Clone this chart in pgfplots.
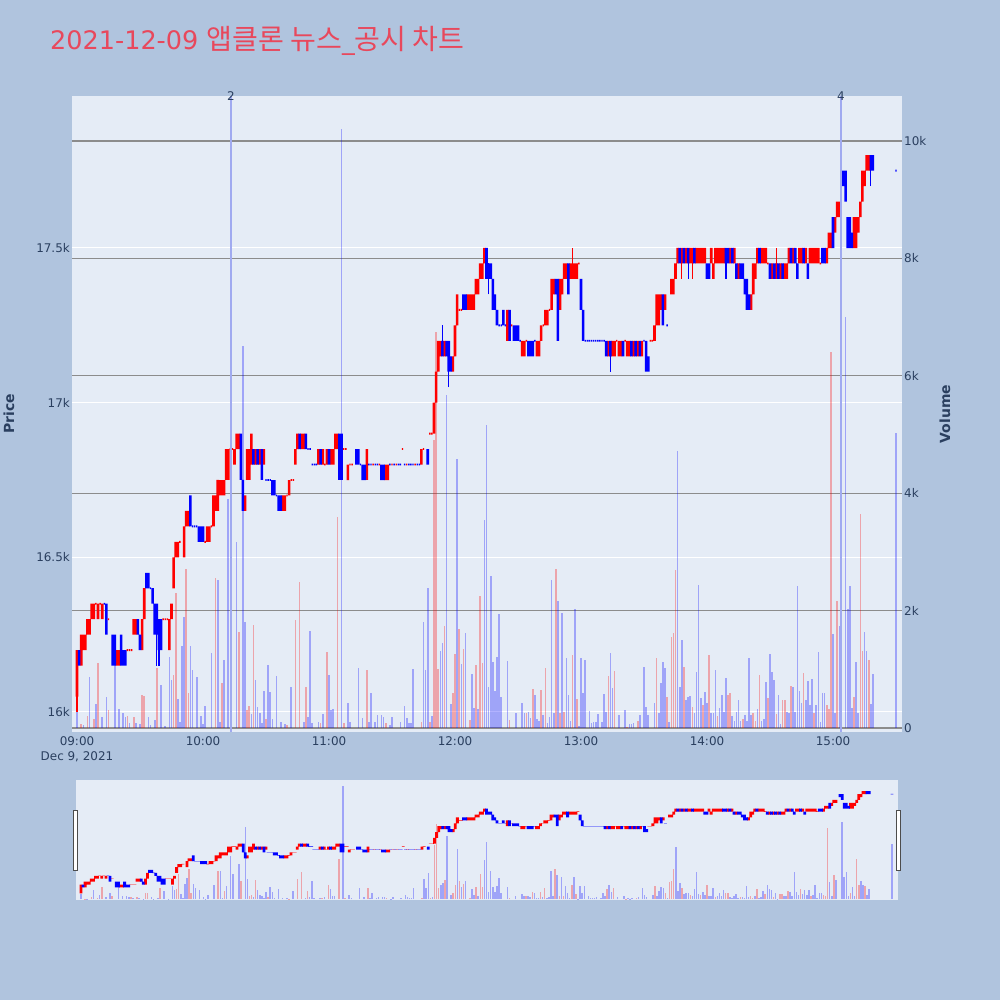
\documentclass[border=0pt]{standalone}
\usepackage{pgfplots}
\pgfplotsset{compat=1.18}
\usepackage{pgfplotstable}
\usepackage{fontspec}
\setmainfont{DejaVu Sans}
\newfontfamily\krfont{Noto Sans CJK KR}
\definecolor{pagebg}{RGB}{176,196,222}
\definecolor{plotbg}{RGB}{229,236,246}
\definecolor{axtext}{RGB}{42,63,95}
\definecolor{titlecol}{RGB}{232,72,92}
\definecolor{upc}{RGB}{255,0,0}
\definecolor{dnc}{RGB}{0,0,255}
\definecolor{vlinec}{RGB}{160,170,240}
\definecolor{vgrid}{RGB}{140,140,140}

\pgfplotstableread{
m o c u
0 16050 16200 1
1 16200 16150 0
2 16150 16250 1
3 16200 16250 1
4 16200 16250 1
5 16250 16300 1
6 16250 16300 1
7 16300 16350 1
8 16300 16350 1
9 16350 16350 1
10 16300 16350 1
11 16350 16350 1
12 16300 16350 1
13 16350 16350 0
14 16350 16250 0
15 16300 16300 1
17 16250 16150 0
18 16250 16150 0
19 16150 16200 1
20 16150 16200 1
21 16250 16150 0
22 16200 16150 0
23 16200 16150 0
24 16200 16200 1
25 16200 16200 1
26 16200 16200 1
27 16250 16300 1
28 16250 16300 1
29 16300 16250 0
30 16250 16200 0
31 16200 16300 1
32 16300 16400 1
33 16450 16400 0
34 16450 16400 0
35 16400 16400 0
36 16400 16350 0
37 16350 16250 0
38 16350 16250 0
39 16300 16200 0
40 16300 16200 0
41 16300 16300 1
42 16300 16300 1
43 16300 16300 1
44 16200 16300 1
45 16300 16350 1
46 16400 16500 1
47 16500 16550 1
48 16500 16550 1
49 16550 16550 1
51 16500 16600 1
52 16600 16650 1
53 16600 16650 1
54 16700 16600 0
55 16600 16600 0
56 16600 16600 0
57 16600 16600 0
58 16600 16550 0
59 16600 16550 0
60 16600 16550 0
61 16550 16550 1
62 16550 16600 1
63 16550 16600 1
64 16600 16600 1
65 16600 16700 1
66 16650 16700 1
67 16650 16750 1
68 16700 16750 1
69 16700 16750 1
70 16700 16750 1
71 16750 16850 1
72 16750 16850 1
73 16850 16850 1
74 16850 16850 1
75 16800 16850 1
76 16850 16900 1
77 16850 16900 1
78 16900 16750 0
79 16750 16650 0
80 16650 16700 1
81 16750 16850 1
82 16750 16850 1
83 16800 16900 1
84 16850 16800 0
85 16800 16850 1
86 16850 16800 0
87 16800 16850 1
88 16850 16750 0
89 16800 16850 1
90 16750 16750 0
91 16750 16750 0
92 16750 16750 0
93 16750 16700 0
94 16750 16700 0
95 16700 16700 0
96 16700 16650 0
97 16700 16650 0
98 16650 16700 1
99 16650 16700 1
100 16700 16700 1
101 16700 16750 1
102 16750 16750 1
103 16750 16750 1
104 16800 16850 1
105 16850 16900 1
106 16900 16850 0
107 16850 16900 1
108 16850 16900 1
109 16900 16850 0
110 16850 16850 0
111 16850 16850 0
112 16800 16800 0
113 16800 16800 0
114 16800 16800 0
115 16800 16850 1
116 16850 16800 0
117 16800 16850 1
118 16800 16800 1
119 16800 16850 1
120 16850 16800 0
121 16800 16850 1
122 16800 16850 1
123 16850 16900 1
124 16850 16900 1
125 16900 16750 0
126 16900 16750 0
127 16850 16850 1
128 16850 16850 1
129 16750 16800 1
130 16800 16800 1
131 16800 16800 1
133 16850 16800 0
134 16850 16800 0
135 16800 16800 0
136 16800 16750 0
137 16800 16750 0
138 16750 16850 1
139 16800 16800 0
140 16800 16800 0
141 16800 16800 1
142 16800 16800 0
143 16800 16800 0
144 16800 16800 1
145 16800 16750 0
146 16800 16750 0
147 16750 16800 1
148 16750 16800 1
149 16800 16800 0
150 16800 16800 1
151 16800 16800 0
152 16800 16800 1
153 16800 16800 0
154 16800 16800 0
155 16850 16850 1
156 16800 16800 0
157 16800 16800 1
158 16800 16800 0
159 16800 16800 0
160 16800 16800 0
161 16800 16800 1
162 16800 16800 0
163 16800 16800 0
164 16800 16850 1
165 16850 16850 1
167 16850 16800 0
168 16900 16900 1
169 16900 16900 1
170 16900 17000 1
171 17000 17100 1
172 17100 17200 1
173 17150 17200 1
174 17200 17150 0
175 17150 17200 1
176 17200 17150 0
177 17200 17100 0
178 17150 17100 0
179 17100 17150 1
180 17150 17250 1
181 17250 17350 1
182 17300 17300 1
183 17300 17300 1
184 17350 17300 0
185 17350 17300 0
186 17300 17350 1
187 17300 17350 1
188 17300 17350 1
189 17300 17350 1
190 17350 17400 1
191 17350 17400 1
192 17400 17450 1
193 17400 17450 1
194 17450 17500 1
195 17500 17400 0
196 17450 17400 0
197 17450 17400 0
198 17400 17300 0
199 17350 17300 0
200 17300 17250 0
201 17250 17250 0
202 17250 17250 0
203 17300 17250 0
204 17250 17250 0
205 17200 17300 1
206 17300 17200 0
207 17250 17250 1
208 17250 17200 0
209 17250 17200 0
210 17250 17200 0
211 17200 17200 0
212 17150 17200 1
213 17150 17200 1
214 17200 17200 1
215 17200 17150 0
216 17200 17150 0
217 17200 17150 0
218 17200 17200 0
219 17150 17200 1
220 17150 17200 1
221 17200 17250 1
222 17250 17250 1
223 17250 17300 1
224 17250 17300 1
225 17300 17300 1
226 17300 17400 1
227 17350 17400 1
228 17400 17350 0
229 17400 17200 0
230 17300 17400 1
231 17350 17400 1
232 17400 17450 1
233 17400 17450 1
234 17450 17350 0
235 17400 17450 1
236 17400 17450 1
237 17400 17450 1
238 17400 17450 1
239 17450 17450 1
240 17400 17300 0
241 17300 17200 0
242 17200 17200 0
243 17200 17200 0
244 17200 17200 0
245 17200 17200 0
246 17200 17200 0
247 17200 17200 0
248 17200 17200 0
249 17200 17200 0
250 17200 17200 0
251 17200 17200 0
252 17200 17150 0
253 17150 17200 1
254 17200 17150 0
255 17150 17200 1
256 17150 17200 1
257 17200 17200 1
258 17150 17200 1
259 17150 17200 1
260 17200 17150 0
261 17200 17200 1
262 17150 17200 1
263 17150 17200 1
264 17200 17150 0
265 17150 17200 1
266 17200 17150 0
267 17150 17200 1
268 17200 17150 0
269 17150 17200 1
270 17200 17200 0
271 17200 17100 0
272 17150 17100 0
273 17200 17200 1
274 17200 17200 1
275 17200 17250 1
276 17250 17350 1
277 17250 17350 1
278 17300 17350 1
279 17350 17250 0
280 17300 17350 1
281 17250 17250 0
283 17350 17400 1
284 17350 17400 1
285 17400 17450 1
286 17450 17500 1
287 17500 17450 0
288 17450 17500 1
289 17500 17450 0
290 17450 17500 1
291 17500 17450 0
292 17450 17500 1
293 17450 17500 1
294 17500 17450 0
295 17450 17500 1
296 17450 17500 1
297 17450 17500 1
298 17450 17500 1
299 17450 17500 1
300 17450 17400 0
301 17450 17400 0
302 17450 17500 1
303 17400 17450 1
304 17450 17500 1
305 17450 17500 1
306 17450 17500 1
307 17450 17500 1
308 17450 17500 1
309 17500 17450 0
310 17500 17450 0
311 17450 17500 1
312 17500 17450 0
313 17450 17500 1
314 17450 17400 0
315 17400 17450 1
316 17450 17400 0
317 17450 17400 0
318 17400 17350 0
319 17400 17300 0
320 17350 17300 0
321 17300 17350 1
322 17350 17450 1
323 17400 17450 1
324 17450 17500 1
325 17500 17450 0
326 17450 17500 1
327 17450 17500 1
328 17450 17500 1
329 17450 17450 1
330 17450 17400 0
331 17400 17450 1
332 17450 17400 0
333 17400 17450 1
334 17450 17400 0
335 17400 17450 1
336 17450 17400 0
337 17400 17450 1
338 17400 17450 1
339 17450 17500 1
340 17500 17450 0
341 17450 17500 1
342 17500 17450 0
343 17450 17400 0
344 17450 17500 1
345 17450 17500 1
346 17500 17450 0
347 17450 17500 1
348 17450 17400 0
349 17450 17500 1
350 17450 17500 1
351 17450 17500 1
352 17450 17500 1
353 17450 17500 1
354 17450 17450 1
355 17500 17450 0
356 17500 17450 0
357 17450 17500 1
358 17500 17550 1
359 17500 17550 1
360 17600 17500 0
361 17550 17600 1
362 17600 17650 1
363 17600 17650 1
365 17750 17700 0
366 17750 17650 0
367 17600 17500 0
368 17600 17500 0
369 17550 17500 0
370 17500 17600 1
371 17500 17600 1
372 17550 17600 1
373 17600 17650 1
374 17650 17750 1
375 17700 17750 1
376 17750 17800 1
377 17750 17800 1
378 17800 17750 0
379 17800 17750 0
390 17750 17750 0
}\candles

\pgfplotstableread{
m v u
0 490 0
2 60 1
3 50 0
5 200 1
6 870 0
8 150 1
9 410 0
10 1100 1
12 190 0
14 530 0
15 300 1
18 1100 0
20 320 0
22 250 0
23 190 0
24 200 1
25 80 0
27 190 1
28 80 0
30 60 0
31 560 1
32 545 1
34 190 0
35 50 0
37 140 0
38 1020 1
40 730 0
42 40 0
44 1210 0
45 820 0
46 900 1
47 2300 1
48 500 0
49 100 0
50 1400 0
51 1890 0
52 2700 1
53 600 1
54 1400 0
55 990 0
57 870 0
59 200 0
60 60 0
61 380 0
64 1280 0
66 2550 1
67 2520 0
68 100 0
69 770 1
70 1160 0
72 3900 0
73 2300 0
76 3170 0
77 1630 1
79 6500 0
80 1800 0
81 310 1
82 380 1
83 230 0
84 1750 1
85 820 0
86 360 0
87 250 0
88 80 0
89 630 0
90 160 1
91 1070 0
92 610 0
93 150 0
95 880 0
97 100 0
99 70 0
100 50 1
102 700 0
104 1840 1
106 2490 1
108 100 0
109 700 1
110 190 0
111 1650 0
112 80 0
115 100 0
116 80 1
117 230 0
119 1290 1
120 900 0
121 300 0
122 330 0
124 3600 1
126 10200 0
127 80 1
129 420 0
130 107 0
134 1028 0
136 165 0
138 988 1
139 107 0
140 591 0
142 107 0
143 221 0
145 221 0
146 193 0
147 85 1
149 51 0
150 193 0
154 107 0
156 375 0
157 165 0
158 85 0
159 90 0
160 1000 0
164 107 1
165 1811 0
166 988 0
167 2390 0
168 102 1
169 204 0
170 4906 1
171 6750 1
172 1000 1
173 1317 0
174 1443 0
175 1738 1
176 5670 0
178 409 0
179 602 1
180 1260 1
181 4580 0
182 1687 1
183 1090 0
184 1345 1
185 1624 0
187 136 1
188 920 0
189 340 0
190 1073 1
191 324 0
192 2250 1
193 1113 1
194 3543 0
195 5162 0
196 698 0
197 2590 0
198 1130 0
199 636 0
200 1215 0
201 1942 0
202 534 0
205 1147 0
206 136 1
209 255 0
212 431 0
213 255 0
214 261 1
215 267 0
216 170 0
217 664 1
218 562 0
219 153 0
220 125 0
221 647 1
222 221 0
223 1022 1
224 90 0
225 193 0
226 2521 0
227 255 0
228 2703 1
229 2164 0
230 261 1
231 1965 0
232 278 1
233 1187 0
234 562 0
235 119 0
236 1244 1
237 2022 0
238 489 1
239 34 0
240 1187 0
241 591 0
242 1158 0
244 295 0
245 90 0
246 107 0
247 107 0
248 238 0
250 107 0
251 579 0
252 278 0
253 886 1
254 1272 0
255 676 0
256 976 1
258 221 0
261 307 0
262 22 1
263 68 0
264 60 0
265 80 0
267 125 1
268 221 0
270 1045 0
271 363 0
272 221 0
275 426 0
276 1187 1
277 250 0
278 761 0
279 1130 0
280 1017 0
281 534 1
282 100 0
283 1556 1
284 1613 1
285 2692 1
286 4724 0
287 704 0
288 1500 0
289 1045 1
290 477 0
291 523 0
292 540 0
293 352 1
294 250 0
295 959 0
296 2436 0
297 506 0
298 392 1
299 619 0
300 420 0
301 1244 1
302 250 0
303 260 0
304 988 0
305 200 1
306 335 0
307 562 0
308 270 0
309 857 0
310 562 1
311 591 1
312 200 0
313 120 0
314 280 0
315 477 0
316 120 0
317 160 1
318 220 0
319 120 0
320 1187 0
321 220 0
322 261 1
323 120 1
324 330 0
325 903 1
326 120 0
327 160 0
328 789 0
329 506 1
330 1260 0
331 959 0
332 818 0
333 230 1
334 562 0
335 60 0
336 477 1
337 477 1
338 280 0
339 250 0
340 716 1
341 693 0
342 280 0
343 2419 0
344 636 0
345 420 0
346 943 1
347 477 0
348 806 0
349 400 0
350 829 0
351 250 1
352 400 0
353 1300 0
354 100 0
355 602 0
356 602 0
357 392 1
358 330 1
359 6411 1
360 1601 0
361 250 0
362 2169 1
363 1738 0
366 7007 0
367 2022 0
368 2419 0
369 335 0
370 523 1
371 1130 0
372 250 0
373 3646 1
374 1317 1
375 1641 0
376 1317 0
377 1158 1
378 409 0
379 920 0
390 5031 0
}\vols

\pgfplotsset{
  mainax/.style={at={(72bp,268bp)}, anchor=south west, scale only axis,
    width=830bp, height=636bp, xmin=-2.381, xmax=392.857,
    axis line style={draw=none}, major tick length=0pt, scaled ticks=false},
  sliderax/.style={at={(76bp,100bp)}, anchor=south west, scale only axis,
    width=822bp, height=120bp, xmin=-2.381, xmax=392.857,
    axis line style={draw=none}, major tick length=0pt, scaled ticks=false,
    xtick=\empty, ytick=\empty},
  pricerange/.style={ymin=15935.3, ymax=17991.4},
  volrange/.style={ymin=-68.1, ymax=10766},
}
% candle bodies as stacked bars: invisible base, then coloured body
\newcommand{\bodies}[2]{%
  \addplot[draw=none, fill=none] table[x=m,
    y expr={(\thisrow{o}+\thisrow{c})/2-max(abs(\thisrow{c}-\thisrow{o})/2,3)}] {\candles};
  \addplot[draw=none, fill=#2] table[x=m,
    y expr={#1*2*max(abs(\thisrow{c}-\thisrow{o})/2,3)}] {\candles};}
\newcommand{\notdoji}{min(abs(\thisrow{c}-\thisrow{o}),1)}
\newcommand{\isdoji}{(1-min(abs(\thisrow{c}-\thisrow{o}),1))}
\newcommand{\volplot}[3]{\addplot[forget plot, ycomb, mark=none, draw=#2, draw opacity=0.3,
  line width=#3, restrict expr to domain={\thisrow{u}}{#1}] table[x=m,y=v] {\vols};}
\newcommand{\wicks}[1]{%
  \addplot[upc, line width=#1, unbounded coords=jump, forget plot] coordinates {
    (0,16000) (0,16200) (0,nan) (236,17400) (236,17500) (236,nan)
    (288,17400) (288,17500) (288,nan) (293,17400) (293,17500) (293,nan)
    (333,17400) (333,17500)};
  \addplot[dnc, line width=#1, unbounded coords=jump, forget plot] coordinates {
    (38,16150) (38,16350) (38,nan) (39,16150) (39,16300) (39,nan)
    (174,17150) (174,17250) (174,nan) (177,17050) (177,17200) (177,nan)
    (196,17350) (196,17450) (196,nan) (254,17100) (254,17200) (254,nan)
    (291,17400) (291,17500) (291,nan) (309,17400) (309,17500) (309,nan)
    (378,17700) (378,17800)};}

\begin{document}
\begin{tikzpicture}[x=1bp,y=1bp]
\fill[pagebg] (0,0) rectangle (1000,1000);

% title
\node[anchor=west, text=titlecol, inner sep=0pt] at (50,959)
  {\fontsize{25.6}{30}\selectfont 2021-12-09 {\krfont\fontsize{28.2}{30}\selectfont 앱클론 뉴스}\_{\krfont\fontsize{28.2}{30}\selectfont 공시 차트}};

% main: background + price grid + labels
\begin{axis}[mainax, pricerange,
  axis background/.style={fill=plotbg},
  ytick={16000,16500,17000,17500}, yticklabels={16k,16.5k,17k,17.5k},
  ymajorgrids, major grid style={white, line width=1bp},
  xtick={0,60,120,180,240,300,360},
  xticklabels={09:00,10:00,11:00,12:00,13:00,14:00,15:00},
  ticklabel style={font=\fontsize{12}{14}\selectfont, text=axtext},
  yticklabel style={anchor=east, inner sep=0pt, xshift=-2bp},
  xticklabel style={anchor=north, inner sep=0pt, yshift=-4bp}]
\addplot[draw=none, forget plot] coordinates {(0,16000)};
\end{axis}

% main: volume
\begin{axis}[mainax, volrange,
  xtick=\empty,
  ytick={2000,4000,6000,8000,10000}, yticklabels={2k,4k,6k,8k,10k},
  extra y ticks={0}, extra y tick labels={0},
  extra y tick style={grid style={white, line width=1.6bp}},
  ymajorgrids, major grid style={vgrid, line width=1.2bp},
  yticklabel pos=right,
  ticklabel style={font=\fontsize{12}{14}\selectfont, text=axtext},
  yticklabel style={anchor=west, inner sep=0pt, xshift=2bp}]
\volplot{0.5:1.5}{upc}{1.6bp}
\volplot{-0.5:0.5}{dnc}{1.6bp}
\end{axis}

% main: wicks
\begin{axis}[mainax, pricerange, xtick=\empty, ytick=\empty, clip=false]
\wicks{1.2bp}
\end{axis}
% main: bodies (non-doji)
\begin{axis}[mainax, pricerange, xtick=\empty, ytick=\empty, clip=false,
  ybar stacked, bar width=2.6bp]
\bodies{\thisrow{u}*\notdoji}{upc}
\end{axis}
\begin{axis}[mainax, pricerange, xtick=\empty, ytick=\empty, clip=false,
  ybar stacked, bar width=2.6bp]
\bodies{(1-\thisrow{u})*\notdoji}{dnc}
\end{axis}
% main: doji
\begin{axis}[mainax, pricerange, xtick=\empty, ytick=\empty, clip=false,
  ybar stacked, bar width=1.4bp]
\bodies{\thisrow{u}*\isdoji}{upc}
\end{axis}
\begin{axis}[mainax, pricerange, xtick=\empty, ytick=\empty, clip=false,
  ybar stacked, bar width=1.4bp]
\bodies{(1-\thisrow{u})*\isdoji}{dnc}
\end{axis}
% main: news lines
\begin{axis}[mainax, pricerange, xtick=\empty, ytick=\empty, clip=false]
\addplot[vlinec, line width=1.6bp, forget plot] coordinates {(73.33,15935.3) (73.33,17991.4)};
\addplot[vlinec, line width=1.6bp, forget plot] coordinates {(363.8,15935.3) (363.8,17991.4)};
\node[text=axtext, font=\fontsize{12}{14}\selectfont] at (axis cs:73.33,17991.4) {2};
\node[text=axtext, font=\fontsize{12}{14}\selectfont] at (axis cs:363.8,17991.4) {4};
\end{axis}

% axis titles and date
\node[text=axtext, font=\fontsize{12}{14}\selectfont] at (77,243) {Dec 9, 2021};
\node[text=axtext, font=\bfseries\fontsize{14}{16}\selectfont, rotate=90] at (9,586) {Price};
\node[text=axtext, font=\bfseries\fontsize{14}{16}\selectfont, rotate=90] at (945,586) {Volume};

% range slider
\begin{axis}[sliderax, volrange, axis background/.style={fill=plotbg}]
\volplot{0.5:1.5}{upc}{1.5bp}
\volplot{-0.5:0.5}{dnc}{1.5bp}
\end{axis}
\begin{axis}[sliderax, pricerange, clip=false, ybar stacked, bar width=2.8bp]
\bodies{\thisrow{u}}{upc}
\end{axis}
\begin{axis}[sliderax, pricerange, clip=false, ybar stacked, bar width=2.8bp]
\bodies{(1-\thisrow{u})}{dnc}
\end{axis}
\draw[fill=white, draw=black!70, line width=0.8bp] (73.5,130) rectangle (77.5,190);
\draw[fill=white, draw=black!70, line width=0.8bp] (896,130) rectangle (900,190);
\end{tikzpicture}
\end{document}
